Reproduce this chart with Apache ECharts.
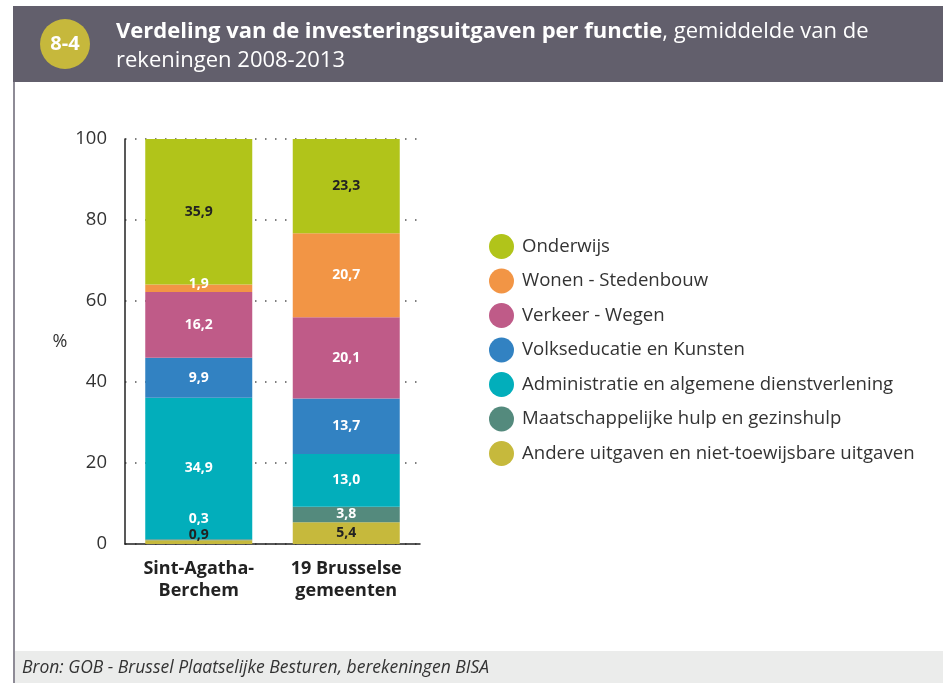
<!DOCTYPE html>
<html>
<head>
<meta charset="utf-8">
<script src="https://cdn.jsdelivr.net/npm/echarts@6/dist/echarts.min.js"></script>
<style>
  html, body { margin: 0; padding: 0; background: #fff; }
  #chart { width: 943px; height: 683px; }
</style>
</head>
<body>
<div id="chart"></div>
<script>
// categories (x axis)
var gemeenten = ['Sint-Agatha-\nBerchem', '19 Brusselse\ngemeenten'];

// series values in %, bottom of the stack first
var andere        = [0.9, 5.4];
var maatschappij  = [0.3, 3.8];
var administratie = [34.9, 13.0];
var volkseducatie = [9.9, 13.7];
var verkeer       = [16.2, 20.1];
var wonen         = [1.9, 20.7];
var onderwijs     = [35.9, 23.3];

var yTicks = [0, 20, 40, 60, 80, 100];

var font = '"Open Sans", "Noto Sans", sans-serif';

function komma(v) {
    return v.toFixed(1).replace('.', ',');
}

// name, data, colour, label colour, label offsets per bar
var reeksen = [
    ['Andere uitgaven en niet-toewijsbare uitgaven', andere, '#c6b93c', '#222', [[0, -7], [0, 0]]],
    ['Maatschappelijke hulp en gezinshulp', maatschappij, '#548a7d', '#fff', [[0, -21], [0, 0]]],
    ['Administratie en algemene dienstverlening', administratie, '#02aebb', '#fff', null],
    ['Volkseducatie en Kunsten', volkseducatie, '#3282c2', '#fff', null],
    ['Verkeer - Wegen', verkeer, '#bf5b88', '#fff', null],
    ['Wonen - Stedenbouw', wonen, '#f29545', '#fff', [[0, -4], [0, 0]]],
    ['Onderwijs', onderwijs, '#b1c41a', '#222', null]
];

var series = reeksen.map(function (r) {
    return {
        name: r[0],
        type: 'bar',
        stack: 'totaal',
        barWidth: 107,
        itemStyle: { color: r[2] },
        data: r[1].map(function (v, i) {
            var item = { value: v };
            if (r[4]) item.label = { offset: r[4][i] };
            return item;
        }),
        label: {
            show: true,
            position: 'inside',
            color: r[3],
            fontFamily: font,
            fontWeight: 'bold',
            fontSize: 14,
            formatter: function (p) { return komma(p.value); }
        },
        emphasis: { disabled: true }
    };
});

var chart = echarts.init(document.getElementById('chart'));

var option = {
    backgroundColor: '#ffffff',
    animation: false,
    title: {
        left: 116,
        top: 17,
        padding: 0,
        text: '{b|Verdeling van de investeringsuitgaven per functie}{n|, gemiddelde van de}\n{n|rekeningen 2008-2013}',
        textStyle: {
            fontWeight: 'normal',
            rich: {
                b: { color: '#fff', fontFamily: font, fontWeight: 'bold', fontSize: 22, lineHeight: 29 },
                n: { color: '#fff', fontFamily: font, fontWeight: 'normal', fontSize: 22, lineHeight: 29 }
            }
        }
    },
    legend: {
        left: 484,
        top: 229,
        orient: 'vertical',
        icon: 'circle',
        itemWidth: 25,
        itemHeight: 25,
        itemGap: 9.5,
        selectedMode: false,
        data: reeksen.map(function (r) { return r[0]; }).reverse(),
        textStyle: { color: '#333', fontFamily: font, fontSize: 18.6, padding: [0, 0, 0, 3] }
    },
    grid: {
        left: 125,
        right: 523,
        top: 139,
        bottom: 139,
        containLabel: false
    },
    xAxis: {
        type: 'category',
        data: gemeenten,
        axisLine: { lineStyle: { color: '#222', width: 1.5 } },
        axisTick: { show: false },
        axisLabel: {
            color: '#222',
            fontFamily: font,
            fontWeight: 'bold',
            fontSize: 18,
            lineHeight: 22,
            margin: 14
        }
    },
    yAxis: {
        type: 'value',
        min: yTicks[0],
        max: yTicks[yTicks.length - 1],
        interval: 20,
        axisLine: { show: true, lineStyle: { color: '#222', width: 1.5 } },
        axisTick: { show: false },
        axisLabel: { color: '#333', fontFamily: font, fontSize: 18.5, margin: 18 },
        splitLine: { show: true, lineStyle: { color: '#555', width: 1.5, type: [1.5, 8.5] } }
    },
    graphic: [
        { type: 'rect', z: -1, shape: { x: 13, y: 6, width: 930, height: 76 }, style: { fill: '#625f6c' } },
        { type: 'rect', z: -1, shape: { x: 13, y: 82, width: 2, height: 601 }, style: { fill: '#8e8b96' } },
        { type: 'rect', z: -1, shape: { x: 15, y: 651, width: 928, height: 32 }, style: { fill: '#ebeceb' } },
        { type: 'circle', shape: { cx: 65, cy: 44, r: 25 }, style: { fill: '#c6b83c' } },
        { type: 'text', x: 65, y: 44, style: { text: '8-4', fill: '#fff', font: 'bold 20px ' + font, align: 'center', verticalAlign: 'middle' } },
        { type: 'text', x: 60, y: 342, style: { text: '%', fill: '#333', font: '18px ' + font, align: 'center', verticalAlign: 'middle' } },
        { type: 'text', x: 22, y: 668, style: { text: 'Bron: GOB - Brussel Plaatselijke Besturen, berekeningen BISA', fill: '#333', font: 'italic 17.5px ' + font, verticalAlign: 'middle' } }
    ],
    series: series
};

chart.setOption(option);
</script>
</body>
</html>
